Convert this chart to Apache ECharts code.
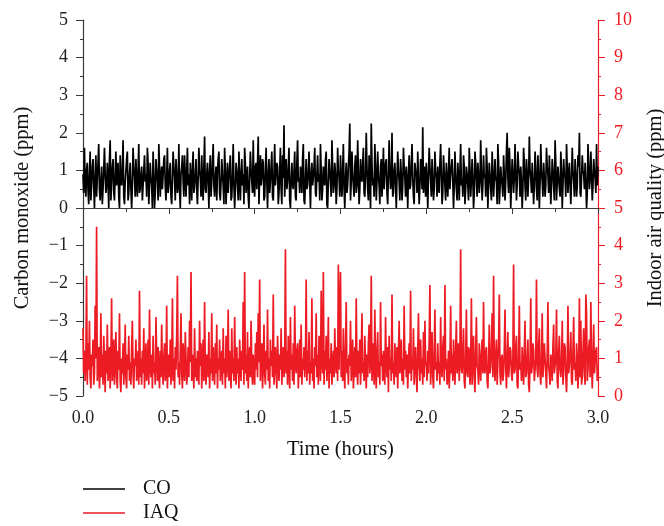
<!DOCTYPE html>
<html>
<head>
<meta charset="utf-8">
<script src="https://cdn.jsdelivr.net/npm/echarts@6/dist/echarts.min.js"></script>
<style>html,body{margin:0;padding:0;background:#fff}#c{width:664px;height:526px}</style>
</head>
<body>
<div id="c"></div>
<script>
// Sampling step of the time axis (hours): one reading every 15 s
const stepHours = 1 / 240;

// Carbon monoxide (ppm), left axis
const coValues = [
0.9,0.4,1.6,0.7,0.3,1.0,1.2,0.5,0.1,0.9,1.5,0.2,0.6,1.1,1.3,0.6,0.0,0.8,1.4,0.3,0.8,1.2,1.7,0.5,0.2,0.7,1.1,0.1,0.5,1.0,1.6,0.9,0.4,0.6,1.2,0.7,0.0,1.3,1.8,0.2,
0.7,1.1,1.3,0.4,0.2,0.9,1.5,0.6,0.9,1.2,0.3,0.0,1.4,0.8,0.6,1.0,1.8,0.3,0.1,0.7,1.0,1.3,1.5,0.2,0.4,0.9,1.2,0.5,0.0,0.6,1.6,1.1,0.8,0.3,1.3,0.7,0.3,1.0,1.7,0.4,
0.5,0.9,1.1,0.2,0.2,1.0,1.4,0.7,0.9,0.3,1.6,1.2,0.1,0.6,1.2,0.8,0.6,0.0,1.5,0.9,0.0,0.4,1.3,1.0,0.7,0.2,1.7,1.1,0.3,0.8,1.1,0.5,0.9,1.3,1.4,0.6,0.2,0.8,1.6,0.4,
0.6,1.0,1.2,0.3,0.1,0.7,1.5,1.1,0.8,0.2,1.3,0.9,0.4,0.6,1.7,0.5,0.0,0.9,1.1,1.4,0.7,0.3,1.4,0.8,0.3,1.0,1.6,0.6,0.9,0.1,1.2,0.7,0.2,1.1,1.5,0.4,0.6,0.9,1.3,0.5,
0.1,0.8,1.6,1.0,0.8,0.3,1.4,0.6,0.2,1.1,1.9,0.5,0.4,0.9,1.2,0.7,0.0,1.0,1.4,0.3,0.7,1.2,1.7,0.6,0.3,0.8,1.1,0.2,0.9,1.3,1.5,0.4,0.2,0.7,1.3,0.9,0.6,0.1,1.6,1.0,
0.1,0.7,1.2,0.4,0.8,1.1,1.4,0.2,0.3,0.9,1.7,0.6,0.0,0.5,1.2,1.0,0.6,0.2,1.5,0.8,0.2,0.9,1.3,0.6,0.9,0.1,1.6,1.2,0.4,0.7,1.1,0.3,0.0,0.8,1.5,1.0,0.7,0.4,1.8,0.6,
0.3,1.1,1.2,0.5,0.5,1.9,0.1,0.8,1.4,0.6,0.8,1.3,1.2,0.2,0.3,1.0,1.6,0.7,0.0,0.9,1.3,0.4,0.7,1.1,1.5,0.3,0.2,0.9,1.7,0.6,0.9,1.2,1.1,0.1,0.4,1.0,1.6,0.5,0.1,1.4,
0.8,2.2,0.3,0.9,1.3,0.5,0.7,1.1,1.6,0.2,0.0,0.8,1.2,0.6,0.5,1.0,1.5,0.3,0.2,1.2,1.8,0.7,0.8,0.4,1.1,0.9,0.4,1.3,1.7,0.2,0.1,0.8,1.3,0.5,0.6,1.0,1.5,0.7,0.0,0.9,
1.2,0.6,0.8,1.1,1.6,0.4,0.3,0.9,1.4,0.7,0.9,0.2,1.7,1.0,0.2,0.5,1.1,0.8,0.6,1.3,1.5,0.1,0.0,0.7,1.3,1.0,0.7,0.3,1.8,1.1,0.4,0.6,1.2,0.9,0.1,0.5,1.6,1.0,0.8,0.3,
1.4,0.7,0.3,1.0,1.7,0.5,0.0,0.8,1.2,0.4,0.6,1.1,1.5,2.25,0.2,0.7,1.5,0.9,0.9,0.3,1.1,1.4,0.4,0.6,1.8,1.0,0.1,0.5,1.3,0.8,0.7,1.2,1.6,0.4,0.3,0.9,2.0,1.1,0.5,0.2,
1.4,0.8,0.0,2.25,1.2,0.6,0.8,0.3,1.7,1.1,0.2,0.7,1.5,0.9,0.6,0.1,1.1,1.3,0.3,0.8,1.6,0.5,0.9,1.2,1.3,0.4,0.1,0.9,1.8,1.0,0.5,0.7,2.0,0.3,0.4,1.0,1.2,0.6,0.0,0.8,
1.5,1.0,0.7,0.2,1.3,0.9,0.2,0.6,1.6,1.1,0.8,0.3,1.1,0.7,0.0,0.9,1.4,0.5,0.6,1.2,1.7,0.8,0.3,0.1,1.2,1.0,0.9,0.4,1.5,0.7,0.1,0.6,1.3,1.1,0.5,2.15,0.4,0.8,1.1,0.3,
1.2,0.7,0.0,0.9,1.6,1.1,0.7,0.3,1.3,0.8,0.2,0.5,1.5,1.0,0.8,0.3,1.1,0.6,0.4,1.2,1.7,0.9,0.1,0.4,1.4,1.0,0.6,0.2,1.2,0.8,0.3,0.9,1.6,0.5,0.9,1.1,1.3,0.7,0.0,0.6,
1.5,0.9,0.5,0.2,1.2,0.8,0.2,1.0,1.7,0.6,0.8,0.3,1.4,1.1,0.1,0.5,1.1,0.9,0.6,0.2,1.6,1.0,0.3,0.7,1.3,0.8,0.0,0.4,1.5,1.2,0.7,0.3,1.2,0.9,0.4,0.7,1.8,1.0,0.2,0.6,
1.4,0.8,0.9,0.3,1.6,1.1,0.0,0.6,1.2,0.9,0.5,0.2,1.5,1.0,0.3,0.7,1.3,0.8,0.7,0.1,1.7,1.2,0.1,0.5,1.1,0.8,0.6,0.3,1.4,0.9,0.2,0.7,1.5,2.0,0.8,0.4,1.6,1.1,0.0,0.6,
1.3,0.9,0.4,0.8,1.7,1.0,0.2,0.6,1.5,1.1,0.9,0.3,1.1,0.7,0.0,0.5,1.6,1.2,0.6,0.2,1.3,0.9,0.3,0.8,1.9,1.0,0.8,0.4,1.2,0.7,0.1,0.6,1.5,1.1,0.5,0.2,1.4,0.9,0.0,0.7,
1.7,1.0,0.7,0.3,1.2,0.8,0.3,0.6,1.6,1.1,0.9,0.4,1.4,0.8,0.1,0.6,1.3,1.0,0.6,0.2,1.8,1.2,0.2,0.7,1.1,0.8,0.5,0.3,1.5,1.0,0.0,0.6,1.3,0.9,0.8,0.3,1.7,1.1,0.4,0.9,
1.2,0.6,0.1,0.8,1.6,1.0,0.7,0.3,1.3,0.9,0.3,0.6,1.4,1.1,2.0,0.4,0.3,0.8,1.4,1.0,0.9,0.5,1.2,0.7,0.0,0.4,1.7,1.1,0.5,0.8,1.5,0.9,0.2,0.6,1.3,1.0,0.8,0.4,1.7,0.6,
1.1
];

// Indoor air quality (ppm), right axis
const iaqValues = [
1.8,0.6,1.2,0.4,0.9,3.2,0.3,1.4,0.7,2.0,0.5,0.2,1.1,0.8,1.5,0.3,0.6,2.4,1.0,4.5,0.4,0.9,1.3,0.2,0.7,2.2,0.5,1.1,0.3,1.6,0.9,0.1,1.2,0.6,1.9,0.4,0.8,1.3,0.2,1.0,
2.6,0.4,0.8,1.5,0.3,0.9,1.7,0.5,0.2,1.2,0.7,2.2,0.4,0.1,1.0,0.6,1.4,0.3,0.8,1.9,0.5,0.2,1.1,0.7,1.6,0.4,0.9,0.3,1.3,2.0,0.6,0.2,1.0,0.8,1.5,0.4,0.7,1.2,0.3,2.8,
0.5,1.0,0.3,1.2,0.6,1.8,0.2,0.9,1.4,0.4,0.7,1.5,0.3,2.3,0.8,0.5,1.1,0.2,1.6,0.6,0.9,0.3,2.1,1.0,0.4,1.3,0.7,0.2,1.2,0.5,1.9,0.8,0.3,1.0,1.4,0.4,0.6,2.4,0.2,0.9,
1.1,0.5,1.5,0.3,0.8,2.6,0.4,1.0,0.2,1.3,0.7,1.6,3.2,0.5,0.9,0.3,1.2,2.2,0.6,0.2,1.4,0.8,0.4,1.7,1.0,0.3,0.6,1.3,0.5,2.0,0.9,3.3,0.4,1.1,0.7,0.2,1.8,0.5,1.0,0.4,
1.2,0.6,0.3,2.0,0.8,1.4,0.2,0.9,1.5,0.4,2.5,0.7,0.3,1.1,0.9,0.5,1.7,0.2,1.0,0.6,2.2,0.4,1.3,0.8,0.3,1.4,0.6,1.9,0.2,1.0,0.7,1.5,0.4,0.9,1.2,0.3,1.8,0.6,1.0,0.2,
1.6,0.5,0.9,2.3,0.4,1.2,0.7,0.2,1.8,0.6,1.0,0.4,2.1,0.8,0.3,1.3,0.6,1.0,0.2,1.5,0.9,0.4,1.2,0.7,2.5,0.3,3.3,0.6,1.1,0.4,1.7,0.2,0.9,1.3,0.5,2.0,0.8,0.3,1.1,0.6,
0.3,1.4,0.7,1.7,0.5,2.2,0.9,3.1,0.4,1.0,1.4,0.2,0.8,1.9,0.6,0.3,1.2,0.7,2.3,0.4,1.0,0.2,1.5,0.8,1.2,0.5,2.7,0.3,0.9,1.3,0.6,0.2,1.6,0.9,0.4,1.1,0.7,1.8,0.3,1.0,
1.3,0.5,0.9,3.9,0.6,1.2,0.3,1.6,0.8,0.2,2.1,0.7,1.1,0.4,1.4,0.3,2.4,0.9,0.6,1.2,1.4,0.2,0.8,1.5,0.5,1.9,0.3,1.0,0.7,1.3,0.5,0.9,3.1,0.4,1.2,0.6,1.7,0.3,0.9,0.6,
2.6,0.4,1.0,0.2,1.3,0.8,2.2,0.5,1.1,0.3,1.6,0.9,0.4,2.8,1.0,0.6,3.3,0.3,1.2,0.7,1.6,0.4,0.9,2.1,0.2,1.0,0.6,1.4,0.3,0.8,1.2,0.5,1.8,0.9,0.6,1.3,0.4,3.5,0.7,2.3,
3.3,0.5,1.2,0.4,1.8,0.7,0.2,1.3,2.5,0.6,1.0,0.3,1.1,0.8,2.0,0.4,0.9,1.5,0.2,0.7,1.3,0.5,2.6,0.8,0.3,1.2,0.6,1.5,0.3,1.0,2.2,0.6,0.9,0.4,1.6,0.8,0.2,1.1,0.5,1.4,
1.9,0.6,1.0,3.2,0.4,0.9,1.4,0.3,2.3,0.7,0.2,1.2,1.7,0.5,0.9,0.3,2.5,0.8,1.1,0.4,1.2,0.6,0.3,2.1,0.9,0.5,1.3,0.1,1.6,0.7,1.0,0.4,2.7,0.6,0.9,0.3,1.4,0.8,0.5,1.3,
0.2,1.1,2.0,0.6,0.8,1.5,0.4,1.0,0.3,2.4,0.7,1.2,0.5,1.1,0.2,0.9,1.4,0.6,2.8,0.4,1.0,0.7,1.8,0.3,0.9,1.3,0.5,0.1,1.2,2.2,0.8,0.4,1.5,0.6,1.0,0.3,1.7,0.5,2.0,0.9,
0.8,0.4,1.2,0.6,1.5,2.95,0.3,1.0,1.7,0.5,0.2,1.1,2.3,0.7,0.9,0.4,1.4,0.6,0.9,0.3,2.1,0.8,0.5,1.3,1.6,0.4,2.95,0.7,1.0,0.3,0.5,1.2,0.2,0.8,2.4,0.6,1.1,0.4,1.5,0.9,
0.3,1.2,2.0,0.6,0.9,1.4,0.4,1.1,3.9,0.7,0.6,1.2,1.8,0.4,0.2,1.0,2.3,0.6,0.5,1.3,1.2,0.3,0.8,2.6,0.3,1.0,1.6,0.5,0.1,1.2,2.1,0.8,0.7,0.3,1.4,0.9,0.4,1.1,1.5,0.6,
2.5,0.7,0.6,1.2,1.3,0.4,0.2,0.9,1.9,0.6,0.8,1.3,2.2,0.5,3.2,0.9,0.4,1.1,1.5,0.3,0.9,1.4,2.7,0.6,0.3,1.0,1.1,0.4,0.6,1.2,2.3,0.8,0.2,1.0,1.7,0.5,0.8,1.3,1.2,0.6,
0.4,1.0,3.5,0.6,0.7,1.3,1.6,0.3,0.2,1.1,2.4,0.7,0.9,0.4,1.3,0.8,0.3,1.2,2.0,0.5,0.6,1.0,1.5,0.3,0.1,0.9,2.6,0.6,0.8,1.4,1.2,0.4,0.4,1.0,3.1,0.7,0.5,1.3,1.8,0.6,
0.3,0.9,2.2,0.5,0.9,1.4,1.4,0.6,0.2,1.1,2.5,0.8,0.6,0.3,1.1,0.9,0.4,1.3,1.9,0.6,0.8,1.0,2.3,0.4,0.2,1.2,1.6,0.7,0.5,0.9,2.0,0.3,0.7,1.4,1.3,0.5,0.1,0.8,2.4,0.6,
0.6,1.1,1.7,0.4,0.3,1.2,2.1,0.7,0.9,0.4,1.4,1.0,0.2,0.8,2.6,0.5,2.0,0.3,0.5,1.2,1.8,0.6,0.3,2.7,2.2,0.4,0.7,1.3,1.5,0.5,2.5,0.9,0.2,1.0,1.9,0.6,0.6,1.2,1.3,0.4,
0.8
];

const seriesNames = ['CO', 'IAQ'];
const xTitle = 'Time (hours)';
const leftTitle = 'Carbon monoxide (ppm)';
const rightTitle = 'Indoor air quality (ppm)';

const FONT = '"Liberation Serif", "DejaVu Serif", serif';
const RED = '#ed1c24';
const DARK = '#3a3a3a';

const minus = v => (v < 0 ? '\u2212' + (-v) : String(v));

const chart = echarts.init(document.getElementById('c'), null, {renderer: 'canvas'});
chart.setOption({
  animation: false,
  backgroundColor: '#fff',
  grid: {left: 83, right: 66, top: 20, bottom: 130, containLabel: false, outerBoundsMode: 'none'},
  legend: {
    orient: 'vertical', left: 83, top: 479, padding: 0,
    icon: 'rect', itemWidth: 42, itemHeight: 1.5, itemGap: 4,
    textStyle: {fontFamily: FONT, fontSize: 20, lineHeight: 20, color: '#111', padding: [0, 0, 0, 13]},
    data: seriesNames
  },
  xAxis: {
    type: 'value', min: 0, max: 3, interval: 0.5,
    name: xTitle, nameLocation: 'middle', nameGap: 43,
    nameTextStyle: {fontFamily: FONT, fontSize: 20.5, color: '#111'},
    axisLine: {lineStyle: {color: DARK, width: 1.2}},
    axisTick: {length: 6, lineStyle: {color: DARK}},
    minorTick: {show: true, splitNumber: 2, length: 4, lineStyle: {color: DARK}},
    axisLabel: {fontFamily: FONT, fontSize: 18, color: '#222', margin: 13, formatter: v => v.toFixed(1)},
    splitLine: {show: false}
  },
  yAxis: [{
    type: 'value', min: -5, max: 5, interval: 1, position: 'left',
    name: leftTitle, nameLocation: 'middle', nameGap: 50, nameRotate: 90,
    nameTextStyle: {fontFamily: FONT, fontSize: 20.5, color: '#111'},
    axisLine: {show: true, lineStyle: {color: DARK, width: 1.2}},
    axisTick: {show: true, length: 7, lineStyle: {color: DARK}},
    minorTick: {show: true, splitNumber: 2, length: 3, lineStyle: {color: DARK}},
    axisLabel: {fontFamily: FONT, fontSize: 18, color: '#222', margin: 15, formatter: minus},
    splitLine: {show: false}
  }, {
    type: 'value', min: 0, max: 10, interval: 1, position: 'right',
    name: rightTitle, nameLocation: 'middle', nameGap: 47, nameRotate: 90,
    nameTextStyle: {fontFamily: FONT, fontSize: 20.5, color: '#111'},
    axisLine: {show: true, lineStyle: {color: RED, width: 1.2}},
    axisTick: {show: true, length: 7, lineStyle: {color: RED}},
    minorTick: {show: true, splitNumber: 2, length: 3, lineStyle: {color: RED}},
    axisLabel: {fontFamily: FONT, fontSize: 18, color: RED, margin: 16},
    splitLine: {show: false}
  }],
  series: [{
    name: seriesNames[0], type: 'line', yAxisIndex: 0, showSymbol: false, symbol: 'none',
    lineStyle: {color: '#000', width: 1.7}, itemStyle: {color: '#000'},
    data: coValues.map((v, i) => [i * stepHours, v])
  }, {
    name: seriesNames[1], type: 'line', yAxisIndex: 1, showSymbol: false, symbol: 'none',
    lineStyle: {color: RED, width: 1.7}, itemStyle: {color: RED},
    data: iaqValues.map((v, i) => [i * stepHours, v])
  }]
});
</script>
</body>
</html>
